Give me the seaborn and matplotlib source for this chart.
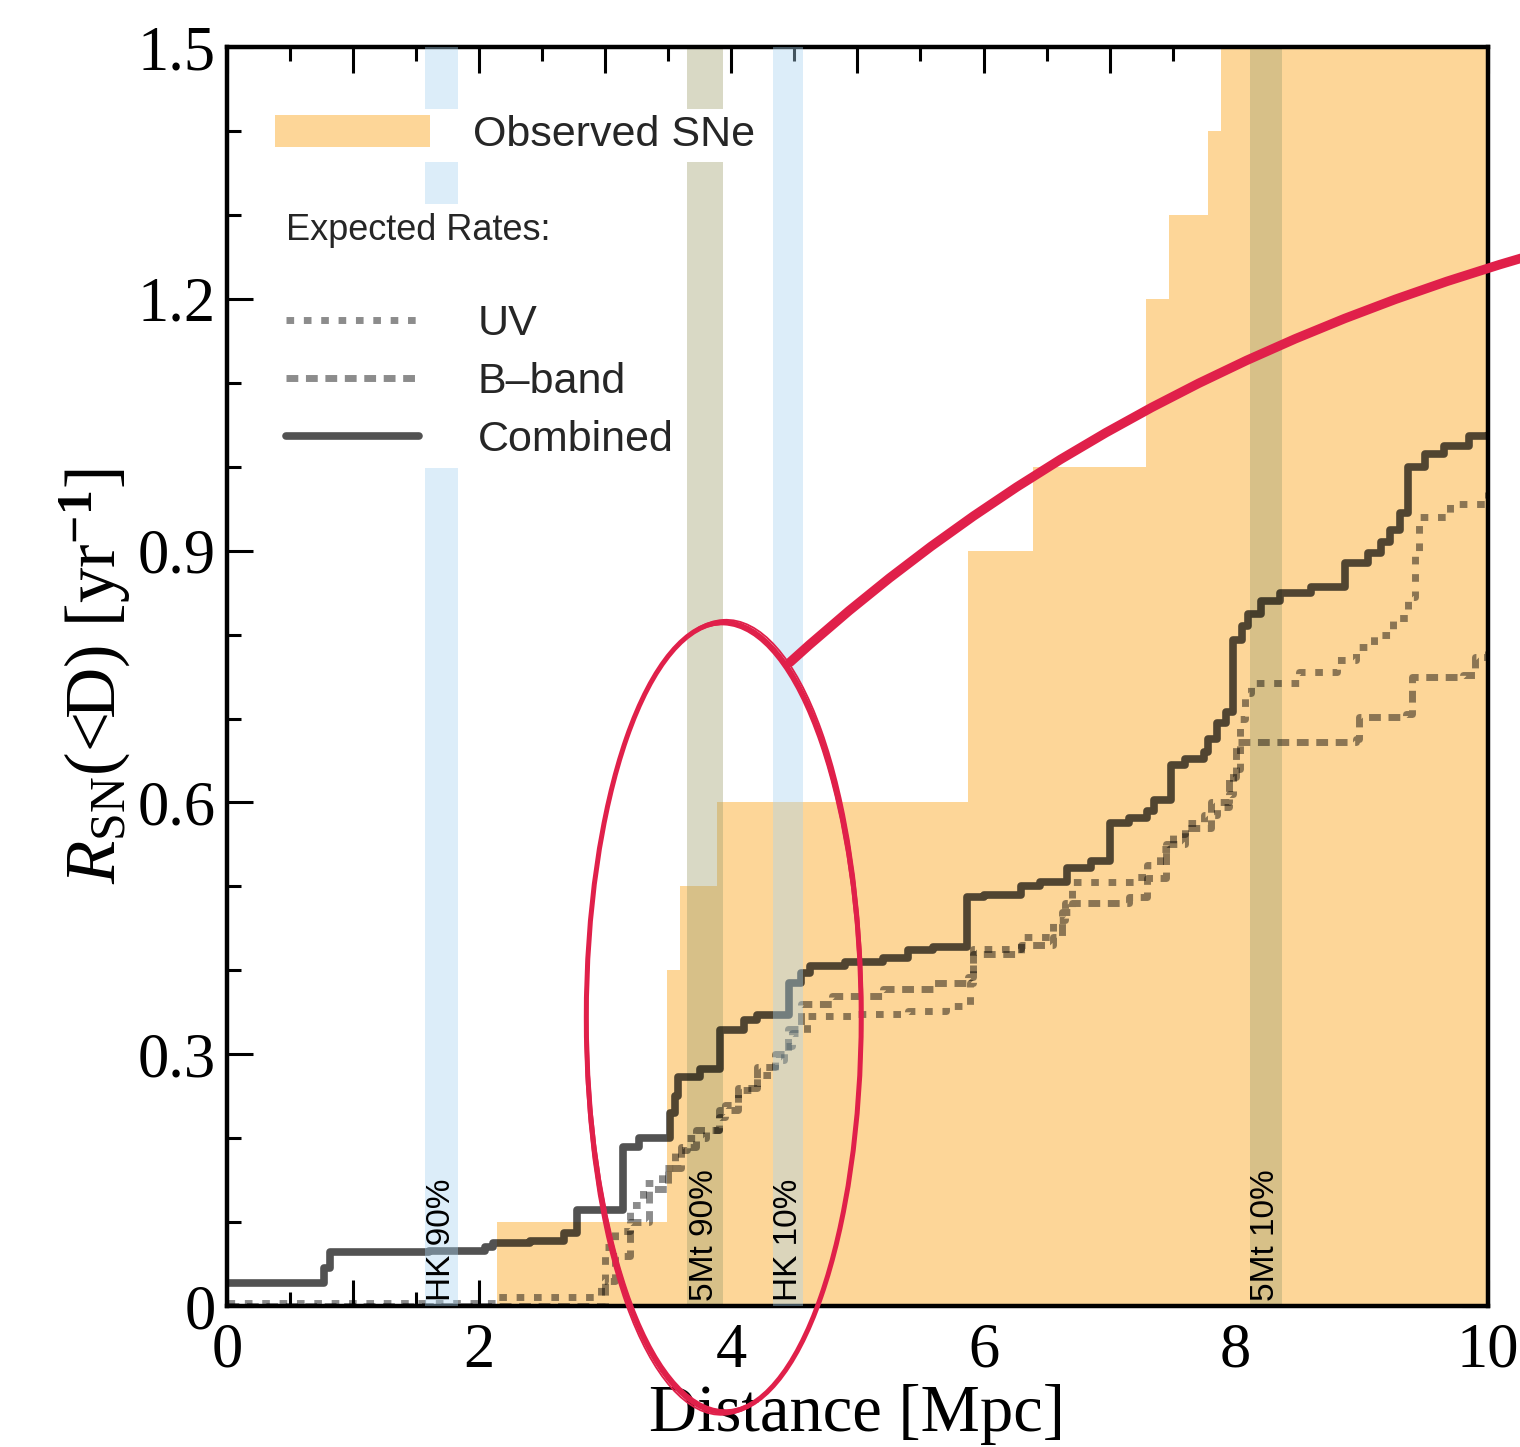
import matplotlib
matplotlib.use("Agg")
import matplotlib.pyplot as plt
import seaborn as sns
import pandas as pd
from matplotlib.patches import Ellipse, Patch, PathPatch
from matplotlib.path import Path
from matplotlib.lines import Line2D
from matplotlib.ticker import MultipleLocator, FuncFormatter

# ---------------- data ----------------
# observed supernova rate within distance D (step function, value holds until next D)
obs_d = [0.00, 2.14, 3.49, 3.59, 3.89, 5.88, 6.39, 7.29, 7.47, 7.78, 7.88]
obs_r = [0.00, 0.10, 0.40, 0.50, 0.60, 0.90, 1.00, 1.20, 1.30, 1.40, 1.60]

# expected cumulative rates
comb_d = [0.00, 0.77, 0.82, 1.60, 2.05, 2.11, 2.40, 2.67, 2.78, 3.14, 3.27, 3.51,
          3.55, 3.58, 3.75, 3.91, 4.10, 4.20, 4.46, 4.55, 4.62, 4.90, 5.20, 5.40,
          5.60, 5.87, 6.00, 6.30, 6.45, 6.66, 6.85, 7.00, 7.15, 7.30, 7.35, 7.49,
          7.60, 7.75, 7.78, 7.85, 7.92, 7.98, 8.05, 8.10, 8.20, 8.35, 8.60, 8.87,
          9.05, 9.15, 9.22, 9.30, 9.37, 9.50, 9.65, 9.85, 10.00]
comb_r = [0.027, 0.045, 0.064, 0.066, 0.070, 0.075, 0.078, 0.087, 0.114, 0.190, 0.200, 0.230,
          0.250, 0.273, 0.283, 0.329, 0.341, 0.347, 0.385, 0.397, 0.405, 0.410, 0.415, 0.424,
          0.428, 0.487, 0.490, 0.500, 0.505, 0.522, 0.530, 0.575, 0.582, 0.590, 0.603, 0.645,
          0.652, 0.660, 0.675, 0.695, 0.708, 0.794, 0.810, 0.825, 0.840, 0.850, 0.857, 0.885,
          0.897, 0.910, 0.925, 0.945, 1.000, 1.015, 1.025, 1.036, 1.038]

uv_d = [0.00, 2.14, 2.97, 3.00, 3.08, 3.20, 3.30, 3.45, 3.55, 3.65, 3.80, 3.90, 3.95,
        4.05, 4.20, 4.35, 4.42, 4.48, 4.60, 5.00, 5.40, 5.70, 5.89, 5.92, 6.30, 6.55,
        6.65, 6.70, 7.20, 7.30, 7.40, 7.50, 7.60, 7.75, 7.85, 7.95, 7.98, 8.03, 8.07,
        8.12, 8.50, 8.80, 8.95, 9.10, 9.25, 9.37, 9.42, 9.45, 9.70, 10.00]
uv_r = [0.004, 0.011, 0.030, 0.070, 0.090, 0.120, 0.147, 0.165, 0.186, 0.200, 0.210, 0.225, 0.240,
        0.257, 0.275, 0.293, 0.310, 0.325, 0.345, 0.348, 0.352, 0.358, 0.385, 0.425, 0.440, 0.460,
        0.480, 0.505, 0.511, 0.525, 0.545, 0.563, 0.575, 0.585, 0.595, 0.610, 0.640, 0.700, 0.730,
        0.742, 0.755, 0.770, 0.785, 0.800, 0.820, 0.845, 0.900, 0.940, 0.955, 0.970]

bb_d = [0.00, 2.95, 3.00, 3.08, 3.20, 3.35, 3.50, 3.60, 3.72, 3.90, 4.05, 4.20, 4.35,
        4.45, 4.55, 4.80, 5.20, 5.60, 5.88, 5.92, 6.30, 6.55, 6.62, 6.70, 7.15, 7.30,
        7.45, 7.60, 7.80, 7.95, 8.00, 8.95, 8.98, 9.35, 9.40, 9.80, 9.90, 10.00]
bb_r = [0.000, 0.000, 0.030, 0.060, 0.100, 0.140, 0.165, 0.190, 0.210, 0.233, 0.260, 0.285, 0.300,
        0.330, 0.360, 0.370, 0.378, 0.385, 0.392, 0.420, 0.430, 0.440, 0.470, 0.480, 0.487, 0.510,
        0.550, 0.570, 0.600, 0.630, 0.672, 0.675, 0.702, 0.705, 0.750, 0.752, 0.773, 0.780]

# detection-horizon bands (left edge, right edge) and their labels
hk_bands = [(1.57, 1.83), (4.33, 4.57)]
hk_labels = ["HK 90%", "HK 10%"]
mt_bands = [(3.65, 3.93), (8.11, 8.37)]
mt_labels = ["5Mt 90%", "5Mt 10%"]

# ---------------- style ----------------
sns.set_theme(style="ticks")
plt.rcParams["font.family"] = ["Liberation Serif", "DejaVu Serif"]
plt.rcParams["mathtext.fontset"] = "custom"
plt.rcParams["mathtext.rm"] = "Liberation Serif"
plt.rcParams["mathtext.it"] = "Liberation Serif:italic"
plt.rcParams["mathtext.bf"] = "Liberation Serif:bold"

ORANGE = "#FDD698"
HK_COLOR = "#A8D4F0"
MT_COLOR = "#A0A070"
RED = "#E0204A"
SANS = ["Liberation Sans", "DejaVu Sans"]

fig = plt.figure(figsize=(15.2, 14.47), dpi=100)
ax = fig.add_axes([0.1493, 0.0974, 0.8296, 0.8701])

# observed SNe (filled step)
ax.fill_between(obs_d + [10.0], obs_r + [obs_r[-1]], step="post",
                color=ORANGE, lw=0, zorder=1)

# 5Mt bands sit under the curves
for (a, b) in mt_bands:
    ax.axvspan(a, b, color=MT_COLOR, alpha=0.4, lw=0, zorder=2)

uv_style = dict(color="black", alpha=0.45, lw=5.0, linestyle=(0, (1.1, 1.4)))
bb_style = dict(color="black", alpha=0.45, lw=5.0, linestyle=(0, (1.7, 1.1)))
comb_style = dict(color="black", alpha=0.68, lw=5.5, linestyle="-")

for d, r, st in [(uv_d, uv_r, uv_style), (bb_d, bb_r, bb_style), (comb_d, comb_r, comb_style)]:
    df = pd.DataFrame({"D": d, "R": r})
    sns.lineplot(data=df, x="D", y="R", ax=ax, estimator=None, sort=False,
                 drawstyle="steps-post", zorder=3, **st)

# HK bands drawn over the curves
for (a, b) in hk_bands:
    ax.axvspan(a, b, color=HK_COLOR, alpha=0.4, lw=0, zorder=4)

for (a, b), lab in list(zip(hk_bands, hk_labels)) + list(zip(mt_bands, mt_labels)):
    ax.text((a + b) / 2, 0.006, lab, rotation=90, ha="center", va="bottom",
            fontsize=24, family=SANS, color="black", zorder=5)

# axes
ax.set_xlim(0, 10)
ax.set_ylim(0, 1.5)
ax.xaxis.set_major_locator(MultipleLocator(1))
ax.xaxis.set_minor_locator(MultipleLocator(0.5))
ax.yaxis.set_major_locator(MultipleLocator(0.3))
ax.yaxis.set_minor_locator(MultipleLocator(0.1))
ax.xaxis.set_major_formatter(FuncFormatter(lambda v, p: f"{int(round(v))}" if int(round(v)) % 2 == 0 else ""))
ax.yaxis.set_major_formatter(FuncFormatter(lambda v, p: "0" if abs(v) < 1e-9 else f"{v:.1f}"))
ax.tick_params(which="both", direction="in", top=True, right=True, width=2.2, color="black")
ax.tick_params(which="major", length=19, labelsize=45, labelcolor="black")
ax.tick_params(which="minor", length=10)
ax.tick_params(axis="x", which="major", pad=12)
ax.tick_params(axis="y", which="major", pad=8)
for s in ax.spines.values():
    s.set_linewidth(3.2)
    s.set_color("black")

ax.set_xlabel("Distance [Mpc]", fontsize=48, labelpad=2, color="black")
ax.set_ylabel(r"$R_{\mathrm{SN}}$(<D) [yr$^{\mathbf{-1}}$]", fontsize=51, labelpad=4, color="black")

# legends
leg1 = ax.legend(handles=[Patch(facecolor=ORANGE, edgecolor="none")], labels=["Observed SNe"],
                 loc="upper left", bbox_to_anchor=(0.033, 0.951), borderaxespad=0,
                 prop={"family": SANS, "size": 31}, frameon=True, facecolor="white",
                 edgecolor="none", framealpha=1, fancybox=False, borderpad=0.15,
                 handlelength=3.6, handleheight=0.75, handletextpad=1.0)
leg1.set_zorder(6)
ax.add_artist(leg1)

line_handles = [Line2D([], [], **uv_style), Line2D([], [], **bb_style), Line2D([], [], **comb_style)]
leg2 = ax.legend(handles=line_handles, labels=["UV", "B\u2013band", "Combined"],
                 title="Expected Rates:", title_fontproperties={"family": SANS, "size": 26},
                 alignment="left", loc="upper left", bbox_to_anchor=(0.040, 0.875),
                 borderaxespad=0, prop={"family": SANS, "size": 31}, frameon=True,
                 facecolor="white", edgecolor="none", framealpha=1, fancybox=False,
                 borderpad=0.2, handlelength=3.1, handletextpad=1.35, labelspacing=0.42)
leg2.set_zorder(6)
leg2._legend_box.sep = 40

# highlight ellipse and pointer curve
for dw, dh, ang, lw in [(0.0, 0.0, 0.0, 3.6), (0.018, 0.006, 0.5, 1.3), (-0.016, -0.005, -0.4, 1.3)]:
    ax.add_patch(Ellipse((3.94, 0.344), 2.18 + dw, 0.941 + dh, angle=ang, fill=False,
                         ec=RED, lw=lw, clip_on=False, zorder=10))
curve = Path([(4.465, 0.767), (6.92, 1.103), (10.30, 1.250)],
             [Path.MOVETO, Path.CURVE3, Path.CURVE3])
ax.add_patch(PathPatch(curve, fill=False, ec=RED, lw=6.8, clip_on=False, zorder=10,
                       capstyle="round"))

fig.savefig("out.png", dpi=100)
